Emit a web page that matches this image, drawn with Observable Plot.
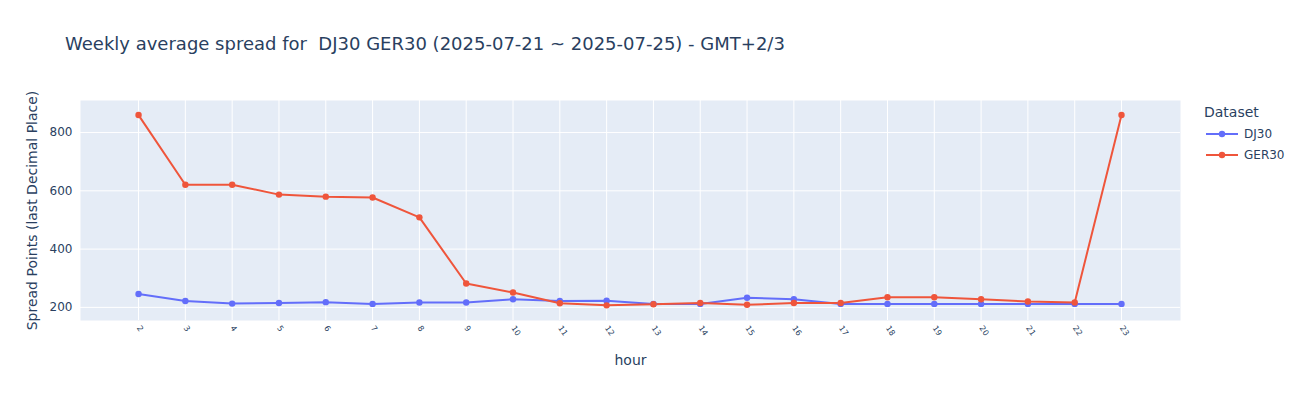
<!DOCTYPE html>
<html><head><meta charset="utf-8">
<script src="https://cdn.jsdelivr.net/npm/d3@7"></script>
<script src="https://cdn.jsdelivr.net/npm/@observablehq/plot@0.6"></script>
<style>
body{margin:0;background:#fff;font-family:"DejaVu Sans",sans-serif;}
#wrap{position:relative;width:1300px;height:400px;}
#title{position:absolute;left:65px;top:33px;font-size:18px;color:#2a3f5f;white-space:pre;}
#legend{position:absolute;left:1204px;top:104px;font-size:12px;color:#2a3f5f;}
#legend .t{font-size:14px;margin-bottom:3px;}
#legend .it{display:flex;align-items:center;height:21px;}
#legend svg{margin-right:4px;}
</style></head>
<body>
<div id="wrap"><div id="chart"></div><div id="title">Weekly average spread for  DJ30 GER30 (2025-07-21 ~ 2025-07-25) - GMT+2/3</div><div id="legend"></div></div>
<script>
const hours = [2,3,4,5,6,7,8,9,10,11,12,13,14,15,16,17,18,19,20,21,22,23];
const dj30 = [246,222,213,215,218,212,217,217,228,222,223,212,212,233,228,212,212,212,212,212,212,212];
const ger30 = [860,621,621,587,580,577,509,282,251,214,207,211,215,209,215,215,235,235,228,220,217,860];
const seriesNames = ["DJ30","GER30"];
const colors = ["#636EFA","#EF553B"];
const yTicks = [200,400,600,800];

const data = [];
hours.forEach((h,i)=>{ data.push({hour:h, v:dj30[i], s:"DJ30"}); });
hours.forEach((h,i)=>{ data.push({hour:h, v:ger30[i], s:"GER30"}); });

const chart = Plot.plot({
  width:1300, height:400,
  marginLeft:80, marginRight:120, marginTop:100, marginBottom:80,
  style:{fontFamily:"DejaVu Sans", fontSize:"12px", color:"#2a3f5f", background:"#fff"},
  x:{type:"linear", domain:[0.76,24.26], ticks:hours, tickFormat:d=>String(d), label:null, tickSize:0},
  y:{domain:[155,910], ticks:yTicks, label:null, tickSize:0},
  color:{domain:seriesNames, range:colors},
  marks:[
    Plot.frame({fill:"#E5ECF6", stroke:null}),
    Plot.gridX(hours,{stroke:"#fff", strokeOpacity:1, strokeWidth:1}),
    Plot.gridY(yTicks,{stroke:"#fff", strokeOpacity:1, strokeWidth:1}),
    Plot.axisX({ticks:hours, tickSize:0, tickRotate:55, fontSize:8, tickPadding:6, label:null, textAnchor:"start", fill:"#2a3f5f"}),
    Plot.axisY({ticks:yTicks, tickSize:0, fontSize:12, tickPadding:8, label:null, fill:"#2a3f5f"}),
    Plot.line(data,{x:"hour", y:"v", stroke:"s", z:"s", strokeWidth:2}),
    Plot.dot(data,{x:"hour", y:"v", fill:"s", r:3.2}),
    Plot.text(["hour"],{frameAnchor:"bottom", dy:44, fontSize:14, fill:"#2a3f5f", text:d=>d}),
    Plot.text(["Spread Points (last Decimal Place)"],{frameAnchor:"left", textAnchor:"middle", dx:-48, rotate:-90, fontSize:14, fill:"#2a3f5f", text:d=>d})
  ]
});
document.getElementById("chart").appendChild(chart);

const lg = document.getElementById("legend");
lg.innerHTML = '<div class="t">Dataset</div>' + seriesNames.map((n,i)=>
  `<div class="it"><svg width="36" height="12"><line x1="2" x2="34" y1="6" y2="6" stroke="${colors[i]}" stroke-width="2"/><circle cx="18" cy="6" r="3.2" fill="${colors[i]}"/></svg>${n}</div>`).join("");
</script>
</body></html>
